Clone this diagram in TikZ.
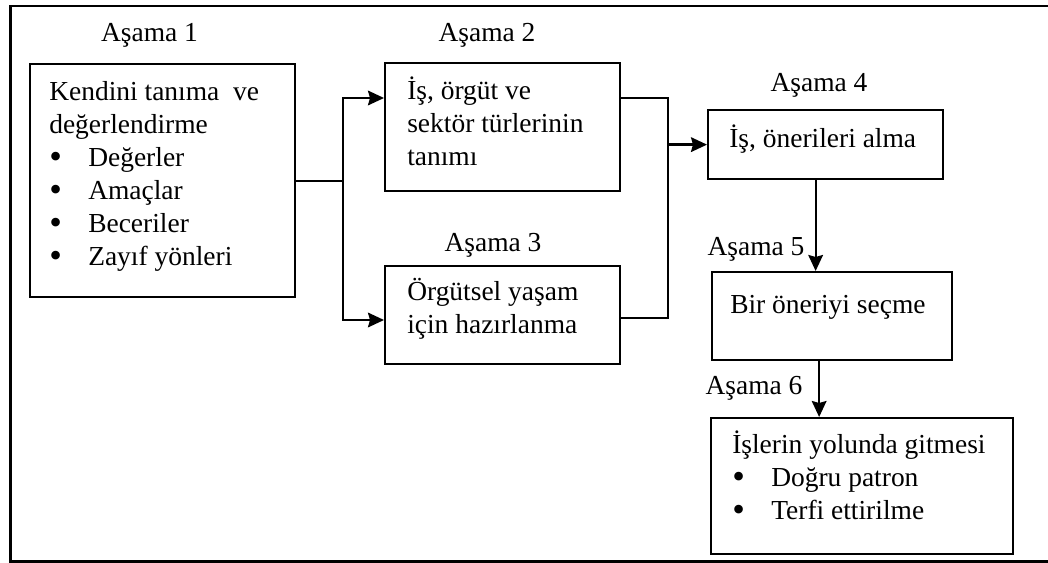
\documentclass[tikz,border=0pt]{standalone}
\usepackage{fontspec}
\setmainfont{Liberation Serif}
\usetikzlibrary{arrows.meta}
\newcommand\listdot{\makebox[29.25pt][l]{\raisebox{-1.6pt}{\fontsize{27}{24.75}\selectfont\textbullet}}}

\begin{document}
\begin{tikzpicture}[x=0.75pt,y=-0.75pt]
        \tikzset{stage/.style 2 args={draw=black, line width=1.7pt, anchor=north west,
                    inner sep=0pt, minimum width=#1, minimum height=#2},
                 stage text/.style={anchor=north west, inner sep=0pt, align=left,
                    font=\fontsize{20.6}{24.75}\selectfont},
                 phase/.style={anchor=base, inner sep=0pt, font=\fontsize{20.6}{24.75}\selectfont},
                 wire/.style={draw=black, line width=1.7pt},
                 flow/.style={wire, -{Stealth[length=12pt,width=11pt,inset=1.5pt]}}}

        \useasboundingbox (0,0) rectangle (1048,563);
        \draw[line width=2.2pt] (1050,6) -- (10.5,6) -- (10.5,561.5) -- (1050,561.5);

        % boxes
        \node[stage={198.75pt}{174.75pt}] (s1) at (29,63) {};
        \node[stage={176.25pt}{96pt}]     (s2) at (384,62) {};
        \node[stage={176.25pt}{73.5pt}]   (s3) at (384,265) {};
        \node[stage={176.25pt}{51.75pt}]  (s4) at (707,109) {};
        \node[stage={180pt}{66pt}]        (s5) at (711,271) {};
        \node[stage={226.5pt}{102pt}]     (s6) at (710,417) {};

        \node[stage text] (t1) at ([shift={(20,14)}]s1.north west)
            {\strut Kendini tanıma\ \ ve\\değerlendirme\\\listdot Değerler\\\listdot Amaçlar\\
             \listdot Beceriler\\\listdot Zayıf yönleri};
        \node[stage text] (t2) at ([shift={(23,14)}]s2.north west)
            {\strut İş, örgüt ve\\sektör türlerinin\\tanımı};
        \node[stage text] (t3) at ([shift={(23,12)}]s3.north west)
            {\strut Örgütsel yaşam\\için hazırlanma};
        \node[stage text] (t4) at ([shift={(22,15)}]s4.north west) {\strut İş, önerileri alma};
        \node[stage text] (t5) at ([shift={(19,19)}]s5.north west) {\strut Bir öneriyi seçme};
        \node[stage text] (t6) at ([shift={(22,13)}]s6.north west)
            {\strut İşlerin yolunda gitmesi\\\listdot Doğru patron\\\listdot Terfi ettirilme};

        \node[phase] (a1) at (149.5,42) {Aşama 1};
        \node[phase] (a2) at (487,42) {Aşama 2};
        \node[phase] (a3) at (493,251) {Aşama 3};
        \node[phase] (a4) at (819,92) {Aşama 4};
        \node[phase] (a5) at (756,255) {Aşama 5};
        \node[phase] (a6) at (754,394) {Aşama 6};

        % connectors
        \coordinate (split1) at (343,98);
        \coordinate (split2) at (343,320);
        \coordinate (join1) at (668,98);
        \coordinate (join2) at (668,318);

        \draw[wire] (s1.east) -- (s1.east -| split1);
        \draw[flow] (s1.east -| split1) |- (split1 -| s2.west);
        \draw[flow] (s1.east -| split1) |- (split2 -| s3.west);
        \draw[wire] (join1 -| s2.east) -- (join1) -- (join2) -- (join2 -| s3.east);
        \draw[flow] (s4.west -| join1) -- (s4.west);
        \draw[flow] ([xshift=-7.5pt]s4.south) -- ([xshift=-7.5pt]s4.south |- s5.north);
        \draw[flow] ([xshift=-9.75pt]s5.south) -- ([xshift=-9.75pt]s5.south |- s6.north);
    \end{tikzpicture}
\end{document}
